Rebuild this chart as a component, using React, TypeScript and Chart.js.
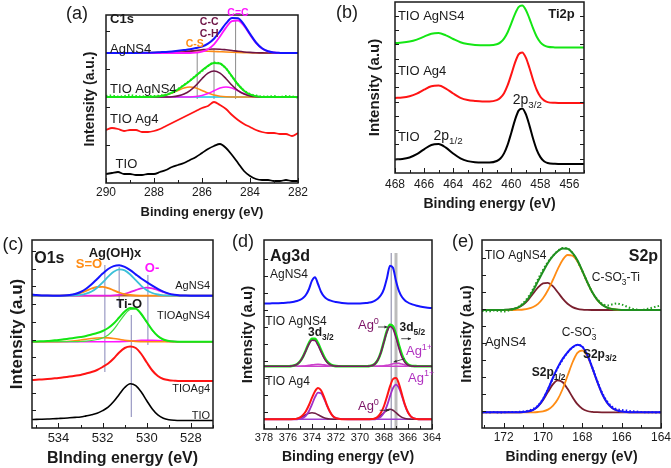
import React, { useEffect, useRef } from 'react';
import { Chart, registerables } from 'chart.js';

Chart.register(...registerables);

const FONT = '"Liberation Sans", Arial, Helvetica, sans-serif';
Chart.defaults.font.family = FONT;

// ---------------- (a) C1s ----------------
const aX = [290, 289.75, 289.5, 289.25, 289, 288.75, 288.5, 288.25, 288, 287.75, 287.5, 287.25, 287, 286.75, 286.5, 286.25, 286, 285.75, 285.5, 285.25, 285, 284.75, 284.5, 284.25, 284, 283.75, 283.5, 283.25, 283, 282.75, 282.5, 282.25, 282];
const aTIO = [9, 10, 11, 9, 9, 8, 8, 9, 9, 11, 13, 16, 18, 20, 23, 26, 30, 34, 37, 39, 35, 28, 20, 12, 7, 4, 3, 3, 2, 2, 3, 2, 2];
const aTIOAg4 = [53, 55, 54, 52, 53, 53, 51, 51, 52, 54, 57, 60, 63, 66, 69, 72, 75, 77, 81, 78, 74, 68, 63, 59, 56, 53, 51, 50, 50, 49, 49, 47, 50];
const aTIOAgNS4 = [86, 86, 86, 86, 86, 86, 86, 86.1, 86.3, 86.8, 88, 90.3, 93.7, 97.9, 102.3, 107.2, 112.4, 117.2, 120.1, 119.5, 114.6, 106.6, 98.5, 92.3, 88.6, 86.8, 86, 86, 86, 86, 86, 86, 86];
const aTIOAgNS4Raw = [87, 87.5, 86.5, 87, 88, 87, 86.5, 87, 87, 87.5, 88.5, 90.5, 94, 98, 102.5, 107.5, 112, 117, 120.5, 119.5, 114.5, 106.5, 98.5, 92.5, 89, 87.5, 86.5, 86.5, 87, 86, 87, 86.5, 85.5];
const aTIOAgNS4_CC = [86, 86, 86, 86, 86, 86, 86, 86, 86, 86, 86.05, 86.3, 87.1, 88.9, 92.3, 97.7, 104.3, 109.8, 112, 109.8, 104.3, 97.7, 92.3, 88.9, 87.1, 86.3, 86, 86, 86, 86, 86, 86, 86];
const aTIOAgNS4_CS = [86, 86, 86, 86, 86, 86, 86, 86.05, 86.25, 86.8, 87.9, 90, 92.6, 95, 96, 95, 92.6, 90, 87.9, 86.8, 86.25, 86.05, 86, 86, 86, 86, 86, 86, 86, 86, 86, 86, 86];
const aTIOAgNS4_CE = [86, 86, 86, 86, 86, 86, 86, 86, 86, 86, 86, 86, 86, 86, 86.04, 86.5, 87.5, 89.4, 92.2, 94.9, 96, 94.9, 92.2, 89.4, 87.5, 86.5, 86.04, 86, 86, 86, 86, 86, 86];
const aAgNS4 = [130, 130, 130, 130, 130, 130.1, 130.2, 130.3, 130.5, 130.8, 131.1, 131.6, 132.2, 132.9, 133.7, 134.9, 136.4, 139.4, 144.3, 151.6, 159.6, 165, 164.7, 158.4, 149.1, 140.5, 134.7, 131.7, 130.5, 130.1, 130, 130, 130];
const aAgNS4_CE = [130, 130, 130, 130, 130, 130, 130, 130, 130, 130, 130, 130, 130, 130, 130, 130.4, 131.3, 133.8, 138.7, 146.5, 155.4, 161.8, 162.5, 157, 148.3, 140.1, 134.5, 131.7, 130.5, 130.1, 130, 130, 130];
const aAgNS4_CC = [130, 130, 130, 130, 130, 130, 130, 130, 130, 130.05, 130.1, 130.3, 130.6, 131.05, 131.7, 132.5, 133.2, 133.8, 134, 133.8, 133.2, 132.5, 131.7, 131.05, 130.6, 130.3, 130.1, 130.05, 130, 130, 130, 130, 130];
const aAgNS4_CS = [130, 130, 130, 130.04, 130.07, 130.13, 130.2, 130.34, 130.51, 130.74, 131, 131.28, 131.56, 131.8, 131.94, 132, 131.94, 131.8, 131.56, 131.28, 131, 130.74, 130.51, 130.34, 130.22, 130.13, 130.07, 130.04, 130.02, 130, 130, 130, 130];
const aBaseX = [288.75, 283.25];
const aBaseY = [86, 86];
const aVX = [286.2, 285.5, 284.6];
const aVTop = [131, 134, 163];
const aVBot = [84, 84, 84];
const aTicks = [282, 284, 286, 288, 290];

// ---------------- (b) Ti2p ----------------
const bX = [468, 467.5, 467, 466.5, 466, 465.5, 465, 464.5, 464, 463.5, 463, 462.5, 462, 461.5, 461, 460.75, 460.5, 460.25, 460, 459.75, 459.5, 459.25, 459, 458.75, 458.5, 458.25, 458, 457.75, 457.5, 457, 456.5, 456, 455.5, 455];
const bTIO = [13.5, 14, 15.5, 18.8, 23.7, 28, 28.9, 25.3, 19.5, 14.6, 11.9, 10.8, 10.5, 10.5, 12, 14.5, 19.6, 28.4, 40.3, 52.9, 62.4, 64.6, 58.8, 47.4, 34.3, 23.2, 15.9, 11.8, 10, 9.2, 9, 9, 9, 9];
const bTIOAg4 = [75, 75.5, 76.8, 79.4, 83.3, 86.8, 87.4, 84.4, 79.5, 75.2, 72.9, 72, 71.5, 71.5, 72.9, 75.2, 79.8, 87.8, 98.6, 110.1, 118.6, 120.6, 115.4, 105, 93, 83, 76.3, 72.6, 70.9, 70.2, 70, 70, 70, 70];
const bTIOAgNS4 = [130, 130.4, 131.4, 133.4, 136.4, 139.2, 139.9, 137.6, 134, 130.8, 129, 128, 127.8, 127.7, 128.7, 130.6, 134.4, 140.8, 149.6, 158.9, 165.8, 167.4, 163.1, 154.4, 144.6, 136.3, 130.7, 127.6, 126.2, 125.6, 125.5, 125.5, 125.5, 125.5];
const bTicks = [456, 458, 460, 462, 464, 466, 468];

// ---------------- (c) O1s ----------------
const cX = [535.2, 535, 534.75, 534.5, 534.25, 534, 533.75, 533.5, 533.25, 533, 532.75, 532.5, 532.25, 532, 531.75, 531.5, 531.25, 531, 530.75, 530.5, 530.25, 530, 529.75, 529.5, 529.25, 529, 528.75, 528.5, 528.25, 528, 527.5, 527];
const cTIO = [8.5, 8.6, 8.8, 9, 9.2, 9.5, 9.8, 10.2, 10.6, 11, 12.1, 13.3, 14.8, 17.4, 20.8, 26.4, 33.6, 40.5, 44.2, 42.4, 36, 27.3, 19, 13.1, 9.8, 8.3, 7.7, 7.5, 7.5, 7.5, 7.5, 7.5];
const cTIOAg4 = [48, 48.3, 48.6, 49, 49.5, 50, 50.7, 51.5, 52.2, 53, 54.5, 56, 58, 61, 64.5, 69.5, 75.5, 80, 81.5, 80, 74, 65.5, 57.5, 52, 49, 47.8, 47.3, 47, 47, 47, 47, 47];
const cTIOAgNS4 = [86.5, 86.6, 86.8, 87, 87.5, 88, 88.7, 89.5, 90.2, 91, 92, 93.5, 95, 97, 100, 104.5, 110.5, 116.5, 120, 119.5, 114, 106, 98, 92, 88.5, 87, 86.5, 86.3, 86.3, 86.3, 86.3, 86.3];
const cTIOAgNS4_TiO = [86.3, 86.3, 86.3, 86.3, 86.3, 86.3, 86.3, 86.3, 86.3, 86.5, 86.9, 87.5, 88.5, 90, 93, 98.5, 106, 113.5, 118.5, 119, 113.5, 105.5, 97.5, 91.8, 88.4, 87, 86.5, 86.3, 86.3, 86.3, 86.3, 86.3];
const cTIOAgNS4_SO = [86.3, 86.3, 86.3, 86.3, 86.3, 86.35, 86.5, 86.8, 87.3, 88, 88.8, 89.5, 90, 90.3, 90.1, 89.5, 88.7, 87.8, 87.1, 86.6, 86.4, 86.3, 86.3, 86.3, 86.3, 86.3, 86.3, 86.3, 86.3, 86.3, 86.3, 86.3];
const cTIOAgNS4_O = [86.3, 86.3, 86.3, 86.3, 86.3, 86.3, 86.3, 86.3, 86.3, 86.3, 86.3, 86.3, 86.3, 86.3, 86.3, 86.3, 86.4, 86.6, 86.9, 87.3, 87.6, 87.8, 87.7, 87.4, 87, 86.6, 86.4, 86.3, 86.3, 86.3, 86.3, 86.3];
const cAgNS4 = [133.5, 133, 132.6, 132.4, 132.3, 132.35, 132.5, 133, 134, 136, 139.2, 143.7, 149, 154.4, 159, 161.9, 162.7, 161.1, 157.8, 153.6, 149.5, 145.8, 142.3, 139.1, 136.3, 134.4, 133.2, 132.6, 132.4, 132.3, 132.3, 132.3];
const cAgNS4_OH = [132.3, 132.3, 132.3, 132.3, 132.3, 132.3, 132.3, 132.4, 132.6, 133.1, 134.3, 136.5, 140.3, 145.5, 151.3, 156.2, 158.6, 157.6, 153.5, 147.8, 142.2, 137.8, 135, 133.5, 132.7, 132.45, 132.3, 132.3, 132.3, 132.3, 132.3, 132.3];
const cAgNS4_SO = [132.3, 132.3, 132.3, 132.3, 132.3, 132.35, 132.5, 132.9, 133.7, 135.2, 137.2, 139.5, 141, 141.2, 139.9, 137.7, 135.5, 133.9, 133, 132.5, 132.35, 132.3, 132.3, 132.3, 132.3, 132.3, 132.3, 132.3, 132.3, 132.3, 132.3, 132.3];
const cAgNS4_O = [132.3, 132.3, 132.3, 132.3, 132.3, 132.3, 132.3, 132.3, 132.3, 132.3, 132.3, 132.3, 132.3, 132.3, 132.3, 132.6, 133.2, 134.2, 135.9, 137.9, 139.6, 140.3, 139.6, 137.9, 135.9, 134.2, 133.2, 132.6, 132.4, 132.3, 132.3, 132.3];
const cBaseX = [535.2, 527];
const cBaseY = [132.3, 132.3];
const cVX = [531.9, 531.25, 530.7, 529.95];
const cVTop = [163, 161, 113, 153];
const cVBot = [56, 121, 11, 83];
const cTicks = [528, 530, 532, 534];

// ---------------- (d) Ag3d ----------------
const dX = [378, 377.5, 377, 376.5, 376, 375.75, 375.5, 375.25, 375, 374.75, 374.5, 374.25, 374, 373.75, 373.5, 373.25, 373, 372.75, 372.5, 372.25, 372, 371.5, 371, 370.5, 370, 369.5, 369.25, 369, 368.75, 368.5, 368.25, 368, 367.75, 367.5, 367.25, 367, 366.75, 366.5, 366.25, 366, 365.75, 365.5, 365.25, 365, 364.5, 364];
const dAgNS4 = [125.5, 125.6, 125.7, 126.0, 126.4, 126.8, 127.3, 128.0, 129.1, 131, 134.2, 140, 148.4, 151.8, 145, 137.3, 132.6, 130.0, 128.6, 127.6, 127.0, 126.1, 125.6, 125.5, 125.5, 125.9, 126.4, 127.0, 128.3, 130.4, 133.9, 140.2, 151.1, 163.3, 161.2, 148.1, 137.9, 132, 128.6, 126.5, 125.1, 124.1, 123.3, 122.5, 121.5, 120.9];
const dTIOAgNS4 = [62.7, 62.7, 62.7, 62.7, 62.7, 62.9, 63.4, 64.7, 67.5, 72.3, 79.1, 85.9, 90.2, 90.2, 85.8, 79.0, 72.5, 67.6, 64.9, 63.5, 62.9, 62.7, 62.7, 62.7, 62.7, 62.7, 62.9, 63.5, 65.2, 69.3, 76.9, 87.6, 98.2, 104.1, 102.6, 94.4, 83.5, 74, 67.8, 64.5, 63.2, 62.9, 62.8, 62.7, 62.7, 62.7];
const dTIOAgNS4_Ag0 = [62.7, 62.7, 62.7, 62.7, 62.7, 62.9, 63.4, 64.7, 67.5, 72.2, 78.6, 85.0, 88.8, 88.4, 83.8, 77.3, 71.1, 66.8, 64.4, 63.3, 62.85, 62.7, 62.7, 62.7, 62.7, 62.7, 62.9, 63.5, 65.2, 69.3, 76.7, 87.1, 97.2, 102.5, 100.1, 91.4, 80.6, 71.8, 66.5, 64, 63.05, 62.8, 62.7, 62.7, 62.7, 62.7];
const dTIOAgNS4_Ag1 = [62.7, 62.7, 62.7, 62.7, 62.7, 62.7, 62.7, 62.7, 62.75, 62.9, 63.2, 63.6, 64.1, 64.5, 64.7, 64.5, 64.1, 63.6, 63.2, 62.9, 62.8, 62.7, 62.7, 62.7, 62.7, 62.7, 62.7, 62.7, 62.7, 62.8, 63, 63.2, 63.7, 64.3, 65.2, 65.7, 65.6, 64.9, 64, 63.2, 62.9, 62.8, 62.7, 62.7, 62.7, 62.7];
const dTIOAg4 = [9.7, 9.7, 9.7, 9.7, 9.7, 9.8, 10.0, 10.4, 11.7, 14.1, 18.0, 24.0, 31.3, 37.8, 40.9, 38.7, 32.1, 23.9, 17.2, 12.8, 10.8, 9.8, 9.7, 9.7, 9.7, 9.7, 9.8, 10.0, 10.5, 12.5, 16.4, 23.0, 32.4, 42.6, 49.9, 50.9, 44.9, 34.5, 24.2, 16.7, 12.4, 10.6, 10.0, 9.7, 9.7, 9.7];
const dTIOAg4_Ag1 = [9.7, 9.7, 9.7, 9.7, 9.7, 9.7, 9.7, 9.7, 10.1, 11.1, 13.4, 18.0, 24.7, 31.8, 36.3, 35.7, 30.5, 23.2, 16.9, 12.8, 10.8, 9.8, 9.7, 9.7, 9.7, 9.7, 9.7, 9.7, 9.7, 10.6, 12.4, 16.4, 23.4, 32.6, 40.9, 44.3, 40.9, 32.6, 23.4, 16.4, 12.4, 10.6, 9.95, 9.7, 9.7, 9.7];
const dTIOAg4_Ag0 = [9.7, 9.7, 9.7, 9.7, 9.7, 9.7, 10.0, 10.4, 11.3, 12.7, 14.3, 15.7, 16.3, 15.7, 14.3, 12.7, 11.3, 10.4, 10.0, 9.8, 9.7, 9.7, 9.7, 9.7, 9.7, 9.7, 9.8, 9.95, 10.5, 11.6, 13.7, 16.3, 18.7, 19.7, 18.7, 16.3, 13.7, 11.6, 10.5, 9.95, 9.8, 9.7, 9.7, 9.7, 9.7, 9.7];
const dBaseX = [378, 364];
const dBaseNS4 = [62.7, 62.7];
const dBaseAg4 = [9.7, 9.7];
const dVX = [367.4, 367.0];
const dVTop = [176, 176];
const dVBot = [0, 0];
const dTicks = [364, 366, 368, 370, 372, 374, 376, 378];
// small pointer arrows: [x0, y0, x1, y1]
const dArrows = [
  [368.5, 102, 367.7, 102],
  [366.56, 90.3, 365.75, 90.3],
  [366.28, 70.3, 367.2, 67],
  [368.36, 18.7, 367.55, 18.7],
];

// ---------------- (e) S2p ----------------
const eX = [173.1, 173, 172.75, 172.5, 172.25, 172, 171.75, 171.5, 171.25, 171, 170.75, 170.5, 170.25, 170, 169.75, 169.5, 169.25, 169, 168.75, 168.5, 168.25, 168, 167.75, 167.5, 167.25, 167, 166.75, 166.5, 166.25, 166, 165.75, 165.5, 165.25, 165, 164.75, 164.5, 164.25, 164];
const eAgNS4 = [15.7, 15.7, 15.7, 15.7, 15.7, 15.7, 15.7, 15.7, 15.8, 15.9, 16.5, 18.2, 22.0, 28.8, 38.6, 50.0, 60.6, 69.1, 75.7, 80.7, 83.2, 81.1, 73.2, 60.7, 46.8, 34.5, 25.6, 20.3, 17.6, 16.4, 15.9, 15.7, 15.7, 15.7, 15.7, 15.7, 15.7, 15.7];
const eAgNS4Raw = [15.5, 15.8, 15.6, 15.9, 15.5, 15.7, 15.9, 16, 16.2, 16.5, 17.3, 19, 22.5, 29, 38.5, 49.5, 60, 68.5, 75.5, 80.5, 83, 81.5, 73.5, 61, 47.5, 35.5, 27, 21.5, 19, 18, 17.5, 16.8, 16.5, 16, 15.8, 15.7, 15.6, 15.8];
const eAgNS4_32 = [15.7, 15.7, 15.7, 15.7, 15.7, 15.7, 15.7, 15.7, 15.7, 15.7, 15.7, 15.7, 16.0, 16.7, 18.4, 22.1, 28.7, 39.0, 52.2, 65.5, 75.1, 77.5, 71.9, 60.3, 46.7, 34.5, 25.6, 20.3, 17.6, 16.4, 15.9, 15.7, 15.7, 15.7, 15.7, 15.7, 15.7, 15.7];
const eAgNS4_12 = [15.7, 15.7, 15.7, 15.7, 15.7, 15.7, 15.7, 15.7, 15.7, 15.9, 16.5, 18.2, 21.7, 27.8, 35.9, 43.6, 47.6, 45.8, 39.2, 30.9, 23.8, 19.3, 17.0, 16.1, 15.8, 15.7, 15.7, 15.7, 15.7, 15.7, 15.7, 15.7, 15.7, 15.7, 15.7, 15.7, 15.7, 15.7];
const eTIOAgNS4 = [118, 118, 118, 118, 118, 118.1, 118.3, 119.0, 120.7, 123.9, 129.5, 137.5, 146.9, 156.3, 165.0, 171.8, 176.7, 179.5, 179.2, 175.1, 167.8, 157.2, 146.0, 135.9, 128.4, 123.4, 120.5, 119.1, 118.4, 118.1, 118, 118, 118, 118, 118, 118, 118, 118];
const eTIOAgNS4Raw = [117, 117, 116.5, 117.5, 117, 116.5, 117.5, 119, 121, 125, 131, 139, 149, 158, 166, 172, 177, 180, 179.5, 175, 167, 157, 146, 136, 129, 124.5, 122.5, 123.5, 124.5, 123.5, 121.5, 119.5, 118.5, 118, 119, 120, 121.5, 122.5];
const eTIOAgNS4_32 = [118, 118, 118, 118, 118, 118, 118, 118, 118.2, 118.5, 119.3, 121, 124.2, 129.7, 137.8, 148, 158.9, 168.1, 173, 172.2, 166.6, 156.8, 145.9, 135.9, 128.4, 123.4, 120.5, 119.1, 118.4, 118.1, 118, 118, 118, 118, 118, 118, 118, 118];
const eTIOAgNS4_12 = [118, 118, 118, 118, 118, 118.1, 118.3, 119, 120.5, 123.4, 128.2, 134.5, 140.7, 144.6, 145.2, 141.8, 135.8, 129.4, 124.2, 120.9, 119.2, 118.4, 118.1, 118, 118, 118, 118, 118, 118, 118, 118, 118, 118, 118, 118, 118, 118, 118];
const eTicks = [164, 166, 168, 170, 172];

// ---------------- colours ----------------
const BLACK = '#000000';
const RED = '#ff1414';
const GREEN = '#14e614';
const BLUE = '#1414ff';
const ORANGE = '#ff8c14';
const MAROON = '#6e1446';
const MAGENTA = '#ff14ff';
const CYAN = '#14c8e6';
const TXT = '#1a1a1a';

type Note = { t: string; x: number; y: number; s: number; b?: boolean; c?: string; a?: string };

function ser(xs: number[], ys: number[], color: string, width = 2, extra: any = {}) {
  return {
    data: xs.map((x, i) => ({ x, y: ys[i] })),
    borderColor: color,
    borderWidth: width,
    pointRadius: 0,
    fill: false,
    cubicInterpolationMode: 'monotone',
    ...extra,
  };
}
function vlines(xs: number[], tops: number[], bots: number[], color: string, width = 1) {
  return xs.map((x, i) => ({
    data: [{ x, y: bots[i] }, { x, y: tops[i] }],
    borderColor: color,
    borderWidth: width,
    pointRadius: 0,
    fill: false,
    tension: 0,
  }));
}
const dotted = { borderDash: [1.5, 2.2] };

// rich text: _{sub} ^{sup}
function parseRich(s: string) {
  const out: { t: string; k: string }[] = [];
  let i = 0;
  let buf = '';
  while (i < s.length) {
    const ch = s[i];
    if ((ch === '_' || ch === '^') && s[i + 1] === '{') {
      if (buf) { out.push({ t: buf, k: 'n' }); buf = ''; }
      const end = s.indexOf('}', i + 2);
      out.push({ t: s.slice(i + 2, end), k: ch === '_' ? 'sub' : 'sup' });
      i = end + 1;
    } else { buf += ch; i++; }
  }
  if (buf) out.push({ t: buf, k: 'n' });
  return out;
}
function drawRich(ctx: CanvasRenderingContext2D, s: string, x: number, y: number, size: number, bold: boolean, color: string, align: string) {
  const parts = parseRich(s);
  const f = (sz: number) => `${bold ? 'bold ' : ''}${sz}px ${FONT}`;
  const small = size * 0.7;
  const items: any[] = [];
  let cx = 0;
  let scriptStart = 0;
  let scriptW = 0;
  let prev = 'n';
  for (const p of parts) {
    const sz = p.k === 'n' ? size : small;
    ctx.font = f(sz);
    const w = ctx.measureText(p.t).width;
    if (p.k !== 'n' && prev !== 'n' && prev !== p.k) {
      items.push({ ...p, x: scriptStart, sz });
      cx = scriptStart + Math.max(scriptW, w);
    } else {
      items.push({ ...p, x: cx, sz });
      if (p.k !== 'n') { scriptStart = cx; scriptW = w; }
      cx += w;
    }
    prev = p.k;
  }
  const x0 = align === 'left' ? x : align === 'right' ? x - cx : x - cx / 2;
  const base = y + size * 0.36;
  ctx.fillStyle = color;
  ctx.textAlign = 'left';
  ctx.textBaseline = 'alphabetic';
  for (const it of items) {
    ctx.font = f(it.sz);
    const yy = it.k === 'n' ? base : it.k === 'sub' ? base + size * 0.3 : base - size * 0.42;
    ctx.fillText(it.t, x0 + it.x, yy);
  }
}

function makeDecor(p: any) {
  return {
    id: 'decor' + p.key,
    afterDraw(chart: any) {
      const { ctx, chartArea: a, scales } = chart;
      const xs = scales.x;
      const ys = scales.y;
      ctx.save();
      ctx.strokeStyle = TXT;
      ctx.lineWidth = 1;
      for (let v = Math.ceil(xs.min); v <= Math.floor(xs.max); v++) {
        const px = Math.round(xs.getPixelForValue(v)) + 0.5;
        const len = v % 2 === 0 ? 5 : 3;
        ctx.beginPath(); ctx.moveTo(px, a.bottom); ctx.lineTo(px, a.bottom - len); ctx.stroke();
      }
      for (let v = p.yStep; v < ys.max - 2; v += p.yStep) {
        const py = Math.round(ys.getPixelForValue(v)) + 0.5;
        ctx.beginPath(); ctx.moveTo(a.left, py); ctx.lineTo(a.left + 4, py); ctx.stroke();
        if (p.rightTicks) { ctx.beginPath(); ctx.moveTo(a.right, py); ctx.lineTo(a.right - 4, py); ctx.stroke(); }
      }
      ctx.lineWidth = 1.5;
      ctx.strokeRect(a.left, a.top, a.right - a.left, a.bottom - a.top);
      for (const ar of (p.arrows || []) as number[][]) {
        const x0 = xs.getPixelForValue(ar[0]);
        const y0 = ys.getPixelForValue(ar[1]);
        const x1 = xs.getPixelForValue(ar[2]);
        const y1 = ys.getPixelForValue(ar[3]);
        const ang = Math.atan2(y1 - y0, x1 - x0);
        ctx.strokeStyle = '#2a2a2a';
        ctx.fillStyle = '#2a2a2a';
        ctx.lineWidth = 0.8;
        ctx.beginPath(); ctx.moveTo(x0, y0); ctx.lineTo(x1, y1); ctx.stroke();
        ctx.beginPath();
        ctx.moveTo(x1, y1);
        ctx.lineTo(x1 - 3.5 * Math.cos(ang - 0.45), y1 - 3.5 * Math.sin(ang - 0.45));
        ctx.lineTo(x1 - 3.5 * Math.cos(ang + 0.45), y1 - 3.5 * Math.sin(ang + 0.45));
        ctx.closePath(); ctx.fill();
      }
      for (const n of p.notes as Note[]) {
        drawRich(ctx, n.t, xs.getPixelForValue(n.x), ys.getPixelForValue(n.y), n.s, !!n.b, n.c || TXT, n.a || 'left');
      }
      ctx.restore();
    },
  };
}

// ---------------- panel specs ----------------
const panelA = {
  key: 'a', top: 0, right: 314, frame: { l: 106, t: 15, r: 298, b: 183 },
  yTitleX: 90, yTitleSize: 14, xTitleY: 212, xTitleSize: 13, tickSize: 12, labelY: 193,
  xMin: 282, xMax: 290, xTicks: aTicks, yStep: 38, rightTicks: false,
  xTitle: 'Binding energy (eV)', yTitle: 'Intensity (a.u.)',
  datasets: [
    ...vlines(aVX, aVTop, aVBot, '#8a8a8a', 1),
    ser(aBaseX, aBaseY, CYAN, 1.6),
    ser(aX, aTIOAgNS4_CS, ORANGE, 1.6),
    ser(aX, aTIOAgNS4_CE, MAGENTA, 1.6),
    ser(aX, aTIOAgNS4_CC, MAROON, 1.6),
    ser(aX, aTIOAgNS4Raw, GREEN, 2, dotted),
    ser(aX, aTIOAgNS4, GREEN, 2),
    ser(aX, aAgNS4_CS, ORANGE, 1.6),
    ser(aX, aAgNS4_CC, MAROON, 1.6),
    ser(aX, aAgNS4_CE, MAGENTA, 1.8),
    ser(aX, aAgNS4, BLUE, 2),
    ser(aX, aTIOAg4, RED, 1.8),
    ser(aX, aTIO, BLACK, 1.8),
  ],
  notes: [
    { t: 'C1s', x: 289.83, y: 165, s: 13, b: true },
    { t: 'C-C', x: 285.7, y: 162, s: 10.5, b: true, c: MAROON, a: 'center' },
    { t: 'C-H', x: 285.7, y: 150, s: 10.5, b: true, c: MAROON, a: 'center' },
    { t: 'C=C', x: 284.5, y: 171, s: 10.5, b: true, c: MAGENTA, a: 'center' },
    { t: 'C-S', x: 286.3, y: 140, s: 10.5, b: true, c: ORANGE, a: 'center' },
    { t: 'AgNS4', x: 289.83, y: 135, s: 13 },
    { t: 'TIO AgNS4', x: 289.83, y: 95, s: 13 },
    { t: 'TIO Ag4', x: 289.83, y: 65, s: 13 },
    { t: 'TIO', x: 289.6, y: 20, s: 13 },
  ],
};

const panelB = {
  key: 'b', top: 0, right: 598, frame: { l: 395, t: 2, r: 584, b: 173 },
  yTitleX: 375, yTitleSize: 15, xTitleY: 205, xTitleSize: 14, tickSize: 12, labelY: 185,
  xMin: 455, xMax: 468, xTicks: bTicks, yStep: 14.3, rightTicks: true,
  xTitle: 'Binding energy (eV)', yTitle: 'Intensity (a.u)',
  datasets: [
    ser(bX, bTIOAgNS4, GREEN, 2),
    ser(bX, bTIOAg4, RED, 2),
    ser(bX, bTIO, BLACK, 2),
  ],
  notes: [
    { t: 'TIO AgNS4', x: 467.8, y: 158, s: 13 },
    { t: 'TIO Ag4', x: 467.8, y: 103, s: 13 },
    { t: 'TIO', x: 467.8, y: 37, s: 13 },
    { t: '2p_{1/2}', x: 465.35, y: 38, s: 14 },
    { t: '2p_{3/2}', x: 459.9, y: 74, s: 14 },
    { t: 'Ti2p', x: 455.64, y: 160, s: 13, b: true, a: 'right' },
  ],
};

const panelC = {
  key: 'c', top: 225, right: 227, frame: { l: 32, t: 240, r: 213, b: 428 },
  yTitleX: 17, yTitleSize: 17, xTitleY: 458, xTitleSize: 16, tickSize: 13, labelY: 438,
  xMin: 527, xMax: 535.2, xTicks: cTicks, yStep: 17.7, rightTicks: false,
  xTitle: 'BInding energy (eV)', yTitle: 'Intensity (a.u)',
  datasets: [
    ...vlines(cVX, cVTop, cVBot, '#9a9ac4', 1.2),
    ser(cBaseX, cBaseY, '#b0602a', 1.5),
    ser(cX, cTIOAgNS4_O, MAGENTA, 1.6),
    ser(cX, cTIOAgNS4_SO, ORANGE, 1.6),
    ser(cX, cTIOAgNS4_TiO, '#44dd44', 1.2),
    ser(cX, cTIOAgNS4, GREEN, 2),
    ser(cX, cAgNS4_O, '#e61ee6', 1.8),
    ser(cX, cAgNS4_SO, ORANGE, 1.8),
    ser(cX, cAgNS4_OH, '#3cc0d8', 1.8),
    ser(cX, cAgNS4, BLUE, 2),
    ser(cX, cTIOAg4, RED, 2),
    ser(cX, cTIO, BLACK, 1.6),
  ],
  notes: [
    { t: 'O1s', x: 535.1, y: 171, s: 16, b: true },
    { t: 'Ag(OH)x', x: 531.44, y: 176, s: 13, b: true, a: 'center' },
    { t: 'S=O', x: 532.62, y: 164.7, s: 13, b: true, c: ORANGE, a: 'center' },
    { t: 'O-', x: 529.76, y: 161, s: 13, b: true, c: MAGENTA, a: 'center' },
    { t: 'AgNS4', x: 527.13, y: 143, s: 11, a: 'right' },
    { t: 'Ti-O', x: 530.8, y: 124.7, s: 13, b: true, a: 'center' },
    { t: 'TIOAgNS4', x: 527.13, y: 113, s: 11, a: 'right' },
    { t: 'TIOAg4', x: 527.13, y: 39.7, s: 11, a: 'right' },
    { t: 'TIO', x: 527.13, y: 13, s: 11, a: 'right' },
  ],
};

const panelD = {
  key: 'd', top: 225, right: 446, frame: { l: 264, t: 240, r: 432, b: 429 },
  yTitleX: 248, yTitleSize: 15, xTitleY: 458, xTitleSize: 14, tickSize: 11, labelY: 438,
  xMin: 364, xMax: 378, xTicks: dTicks, yStep: 17, rightTicks: false,
  xTitle: 'Binding energy (eV)', yTitle: 'Intensity (a.u)',
  arrows: dArrows,
  datasets: [
    ...vlines([dVX[1]], [dVTop[1]], [dVBot[1]], '#bcbcbc', 3),
    ...vlines([dVX[0]], [dVTop[0]], [dVBot[0]], '#8080a0', 1),
    ser(dBaseX, dBaseAg4, '#a040d0', 1.6),
    ser(dX, dTIOAg4_Ag0, '#6e1f45', 1.6),
    ser(dX, dTIOAg4_Ag1, '#a030c8', 1.8),
    ser(dX, dTIOAg4, RED, 2),
    ser(dBaseX, dBaseNS4, '#cc40cc', 1.4),
    ser(dX, dTIOAgNS4_Ag1, '#cc40cc', 1.6),
    ser(dX, dTIOAgNS4, GREEN, 2.6),
    ser(dX, dTIOAgNS4_Ag0, '#7d1466', 1.6),
    ser(dX, dAgNS4, BLUE, 2),
  ],
  notes: [
    { t: 'Ag3d', x: 377.5, y: 173.7, s: 16, b: true },
    { t: 'AgNS4', x: 377.5, y: 155.3, s: 12 },
    { t: 'TIO AgNS4', x: 377.9, y: 108.7, s: 12 },
    { t: '3d_{3/2}', x: 374.33, y: 97, s: 12, b: true },
    { t: 'Ag^{0}', x: 370.17, y: 104.3, s: 13, c: '#7d1466' },
    { t: '3d_{5/2}', x: 366.7, y: 102, s: 12, b: true },
    { t: 'Ag^{1+}', x: 366.17, y: 78.7, s: 13, c: '#b030c0' },
    { t: 'TIO Ag4', x: 377.9, y: 48.7, s: 12 },
    { t: 'Ag^{1+}', x: 366.0, y: 52, s: 13, c: '#b030c0' },
    { t: 'Ag^{0}', x: 370.17, y: 23.7, s: 13, c: '#7d1466' },
  ],
};

const panelE = {
  key: 'e', top: 225, right: 675, frame: { l: 482, t: 240, r: 661, b: 428 },
  yTitleX: 467, yTitleSize: 15, xTitleY: 458, xTitleSize: 14, tickSize: 12, labelY: 438,
  xMin: 164, xMax: 173.1, xTicks: eTicks, yStep: 17, rightTicks: false,
  xTitle: 'Binding energy (eV)', yTitle: 'Intensity (a.u)',
  datasets: [
    ser(eX, eTIOAgNS4_12, '#7a1f2e', 1.8),
    ser(eX, eTIOAgNS4_32, ORANGE, 1.8),
    ser(eX, eTIOAgNS4Raw, '#1f9f1f', 2, dotted),
    ser(eX, eTIOAgNS4, '#1f8f1f', 2),
    ser(eX, eAgNS4_12, '#7a1f2e', 1.8),
    ser(eX, eAgNS4_32, ORANGE, 1.8),
    ser(eX, eAgNS4Raw, BLUE, 2, dotted),
    ser(eX, eAgNS4, BLUE, 2),
  ],
  notes: [
    { t: 'TIO AgNS4', x: 172.95, y: 173, s: 12 },
    { t: 'S2p', x: 164.15, y: 173, s: 16, b: true, a: 'right' },
    { t: 'C-SO_{3}^{-}-Ti', x: 167.52, y: 151.3, s: 12 },
    { t: 'AgNS4', x: 172.95, y: 86.3, s: 13 },
    { t: 'C-SO_{3}^{-}', x: 169.05, y: 96.3, s: 12 },
    { t: 'S2p_{3/2}', x: 167.97, y: 74.7, s: 12, b: true },
    { t: 'S2p_{1/2}', x: 170.57, y: 56.3, s: 12, b: true },
  ],
};

const panels = [panelA, panelB, panelC, panelD, panelE];
const letters = [
  { t: '(a)', x: 77, y: 13 },
  { t: '(b)', x: 347, y: 12 },
  { t: '(c)', x: 13, y: 244 },
  { t: '(d)', x: 243, y: 241 },
  { t: '(e)', x: 463, y: 241 },
];

function Panel({ p }: { p: any }) {
  const ref = useRef<HTMLCanvasElement>(null);
  const boxX = Math.round(p.yTitleX - 0.6 * p.yTitleSize);
  const boxB = Math.round(p.xTitleY + 0.6 * p.xTitleSize);
  const w = p.right - boxX;
  const h = boxB - p.top;
  useEffect(() => {
    const f = p.frame;
    const chart = new Chart(ref.current as HTMLCanvasElement, {
      type: 'line',
      data: { datasets: p.datasets.slice().reverse() },
      options: {
        animation: false,
        responsive: false,
        maintainAspectRatio: false,
        events: [],
        layout: { padding: { left: 0, top: f.t - p.top, right: p.right - f.r, bottom: 0 } },
        plugins: { legend: { display: false }, tooltip: { enabled: false } },
        scales: {
          x: {
            type: 'linear',
            reverse: true,
            min: p.xMin,
            max: p.xMax,
            afterBuildTicks: (s: any) => { s.ticks = p.xTicks.map((v: number) => ({ value: v })); },
            afterFit: (s: any) => { s.height = boxB - f.b; },
            grid: { display: false, drawTicks: false },
            border: { display: false },
            ticks: {
              autoSkip: false,
              maxRotation: 0,
              color: TXT,
              font: { size: p.tickSize, family: FONT },
              padding: p.labelY - f.b - 0.6 * p.tickSize,
            },
            title: {
              display: true,
              text: p.xTitle,
              color: TXT,
              font: { size: p.xTitleSize, weight: 'bold', family: FONT },
              padding: { top: 0, bottom: 0 },
            },
          },
          y: {
            type: 'linear',
            min: 0,
            max: f.b - f.t,
            afterFit: (s: any) => { s.width = f.l - boxX; },
            grid: { display: false, drawTicks: false },
            border: { display: false },
            ticks: { display: false },
            title: {
              display: true,
              text: p.yTitle,
              color: TXT,
              font: { size: p.yTitleSize, weight: 'bold', family: FONT },
              padding: { top: 0, bottom: 0 },
            },
          },
        },
      } as any,
      plugins: [makeDecor(p)],
    });
    return () => chart.destroy();
  }, []);
  return (
    <canvas
      ref={ref}
      width={w}
      height={h}
      style={{ position: 'absolute', left: boxX, top: p.top, width: w, height: h }}
    />
  );
}

export default function App() {
  return (
    <div style={{ position: 'fixed', left: 0, top: 0, width: 671, height: 468, overflow: 'hidden', background: '#ffffff' }}>
      {panels.map((p) => <Panel key={p.key} p={p} />)}
      {letters.map((l) => (
        <div
          key={l.t}
          style={{
            position: 'absolute', left: l.x, top: l.y, transform: 'translate(-50%, -50%)',
            font: `18px ${FONT}`, color: TXT, lineHeight: '18px', whiteSpace: 'nowrap',
          }}
        >
          {l.t}
        </div>
      ))}
    </div>
  );
}
